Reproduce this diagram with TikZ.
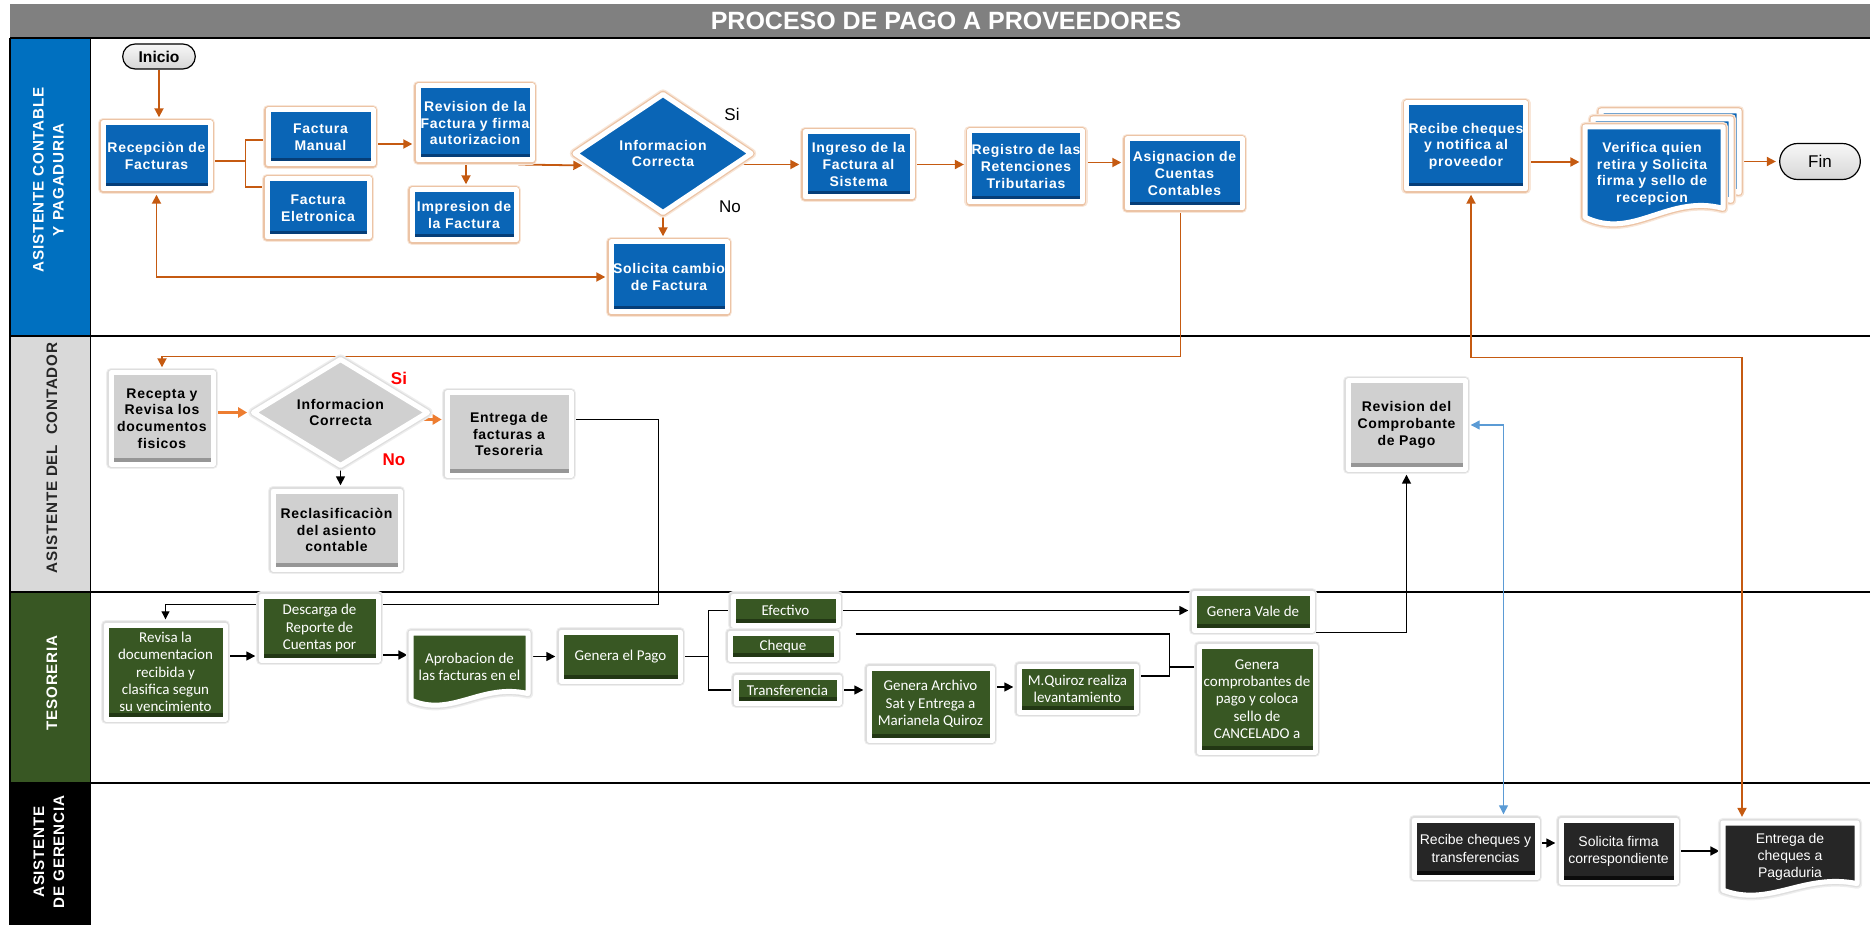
\documentclass[tikz,border=0pt]{standalone}
\usepackage{fontspec}
\setmainfont{Liberation Sans}
\newfontfamily\calfont{Carlito}
\newfontfamily\spfont[LetterSpace=5]{Liberation Sans}
\usetikzlibrary{shapes.geometric,shapes.misc,arrows.meta,calc,shadows}

\definecolor{pblue}{RGB}{10,101,182}
\definecolor{pblueD}{RGB}{6,62,120}
\definecolor{pgray}{RGB}{208,208,208}
\definecolor{pgrayD}{RGB}{150,150,150}
\definecolor{pgreen}{RGB}{56,87,35}
\definecolor{pgreenD}{RGB}{34,55,20}
\definecolor{pblack}{RGB}{38,38,38}
\definecolor{pblackD}{RGB}{12,12,12}
\definecolor{haloO}{RGB}{236,196,166}
\definecolor{haloOL}{RGB}{248,230,216}
\definecolor{haloG}{RGB}{222,222,222}
\definecolor{haloGL}{RGB}{238,238,238}
\definecolor{hblue}{RGB}{0,112,192}
\definecolor{hgray}{RGB}{217,217,217}
\definecolor{hgreen}{RGB}{56,87,35}
\definecolor{tgray}{RGB}{128,128,128}
\definecolor{lorange}{RGB}{197,90,17}
\definecolor{lorange2}{RGB}{237,125,49}
\definecolor{lblue}{RGB}{91,155,213}

\newcommand\bxfont{\spfont\fontsize{7}{8.3}\selectfont\bfseries}
\newcommand\grfont{\calfont\fontsize{7.5}{8.7}\selectfont}
\newcommand\bkfont{\fontsize{7}{8.6}\selectfont}
\newcommand\hdfont{\spfont\fontsize{7.6}{10}\selectfont\bfseries}

% document shape: style, x1, y1 (top), x2, y2 (bottom of the wave)
\newcommand{\docshape}[5]{%
  \path[#1] (#2,#3) -- (#4,#3) -- (#4,{#5-0.17*(#5-#3)})
    .. controls ({#2+0.6*(#4-#2)},{#5-0.32*(#5-#3)}) and ({#2+0.35*(#4-#2)},{#5+0.16*(#5-#3)})
    .. (#2,{#5-0.08*(#5-#3)}) -- cycle;}

\pgfdeclarelayer{lanes}
\pgfdeclarelayer{links}
\pgfsetlayers{lanes,links,main}

\tikzset{
  sz/.style 2 args={minimum width={(#1-6)*0.5pt}, minimum height={(#2-6)*0.5pt}},
  dsz/.style 2 args={minimum width={#1*0.5pt}, minimum height={#2*0.5pt}},
  frame/.style={draw=white, line width=2.5pt, line join=round, align=center, inner sep=1pt},
  shd/.style={drop shadow={shadow xshift=0.7pt, shadow yshift=-1.3pt, opacity=0.35, fill=black!70}},
  halo/.style 2 args={preaction={draw=#2, line width=5.2pt, line join=round},
                      preaction={draw=#1, line width=3.8pt, line join=round}},
  bev/.style={path picture={\fill[#1] ([yshift=3.2pt]path picture bounding box.south west) rectangle (path picture bounding box.south east);}},
  bluebox/.style={frame, shd, halo={haloO}{haloOL}, fill=pblue, bev=pblueD, text=white, font=\bxfont},
  bluediam/.style={frame, shd, halo={haloO}{haloOL}, fill=pblue, diamond, aspect=1.5, inner sep=0pt, text=white, font=\bxfont},
  graybox/.style={frame, shd, halo={haloG}{haloGL}, fill=pgray, bev=pgrayD, text=black, font=\bxfont},
  graydiam/.style={frame, shd, halo={haloG}{haloGL}, fill=pgray, diamond, aspect=1.5, inner sep=0pt, text=black, font=\bxfont},
  greenbox/.style={frame, shd, halo={haloG}{haloGL}, fill=pgreen, bev=pgreenD, text=white, font=\grfont},
  blackbox/.style={frame, shd, halo={haloG}{haloGL}, fill=pblack, bev=pblackD, text=white, font=\bkfont},
  bluedoc/.style={draw=white, line width=2.5pt, line join=round, shd, halo={haloO}{haloOL}, fill=pblue},
  greendoc/.style={draw=white, line width=2.5pt, line join=round, shd, halo={haloG}{haloGL}, fill=pgreen},
  blackdoc/.style={draw=white, line width=2.5pt, line join=round, shd, halo={haloG}{haloGL}, fill=pblack},
  doctext/.style={align=center, inner sep=0pt},
  pill/.style={rounded rectangle, draw=black, line width=0.6pt, top color=gray!6, bottom color=gray!32},
  hdr/.style={rotate=90, align=center, font=\hdfont},
  olin/.style={draw=lorange, line width=0.9pt},
  oarr/.style={olin, -{Triangle[length=4.5pt,width=4.5pt]}, shorten >=1.6pt},
  obth/.style={olin, {Triangle[length=4.5pt,width=4.5pt]}-{Triangle[length=4.5pt,width=4.5pt]}, shorten >=1.6pt, shorten <=1.6pt},
  o2arr/.style={draw=lorange2, line width=1.6pt, -{Triangle[length=4.5pt,width=5pt]}, shorten >=1.4pt},
  klin/.style={draw=black, line width=0.8pt},
  karr/.style={klin, -{Triangle[length=4.5pt,width=4.5pt]}, shorten >=1.6pt},
  tarr/.style={draw=black, line width=0.5pt, -{Triangle[length=4pt,width=4pt]}, shorten >=1.6pt},
  lbth/.style={draw=lblue, line width=0.6pt, {Triangle[length=4.5pt,width=4.5pt]}-{Triangle[length=4.5pt,width=4.5pt]}, shorten >=1.6pt, shorten <=1.6pt},
}

\begin{document}
\begin{tikzpicture}[x=0.5pt,y=-0.5pt]
\useasboundingbox (0,0) rectangle (1870,925);

% ---------- swimlanes ----------
\begin{pgfonlayer}{lanes}
  \fill[tgray] (10,4) rectangle (1870,38);
  \fill[hblue] (10,38) rectangle (90,336);
  \fill[hgray] (10,336) rectangle (90,592);
  \fill[hgreen] (10,592) rectangle (90,783);
  \fill[black] (10,783) rectangle (90,925);
  \draw[line width=1.2pt] (10,38) -- (1870,38);
  \foreach \yy in {336,592,783} \draw[line width=1.2pt] (10,\yy) -- (1870,\yy);
  \draw[line width=0.8pt] (10,38) -- (10,925);
  \draw[line width=0.5pt] (90,38) -- (90,925);
\end{pgfonlayer}

\node[text=white, font=\bfseries\fontsize{12.5}{14}\selectfont] (title) at (946,21) {PROCESO DE PAGO A PROVEEDORES};
\node[hdr, text=white] (h1) at (48.5,180) {ASISTENTE CONTABLE\\Y PAGADURIA};
\node[hdr, text=black!85] (h2) at (52,458) {ASISTENTE DEL\ \ CONTADOR};
\node[hdr, text=white] (h3) at (52,683) {TESORERIA};
\node[hdr, text=white] (h4) at (49,852) {ASISTENTE\\DE GERENCIA};

% ---------- lane 1: asistente contable y pagaduria ----------
\node[pill, minimum width=43pt, minimum height=12.5pt, font=\bfseries\fontsize{7.8}{9}\selectfont] (inicio) at (159,56.5) {Inicio};
\node[bluebox, sz={113}{72}] (rec) at (156.5,156) {Recepciòn de\\Facturas};
\node[bluebox, sz={111}{60}] (fm) at (320.5,137) {Factura\\Manual};
\node[bluebox, sz={108}{64}] (fe) at (318,208) {Factura\\Eletronica};
\node[bluebox, sz={120}{80}] (rev) at (475,123) {Revision de la\\Factura y firma\\autorizacion};
\node[bluebox, sz={110}{56}] (imp) at (464,215) {Impresion de\\la Factura};
\node[bluediam, minimum width=89pt, minimum height=60pt] (dia) at (663,153.5) {Informacion\\Correcta};
\node[font=\fontsize{8.5}{10}\selectfont] (si1) at (732,114) {Si};
\node[font=\fontsize{8.5}{10}\selectfont] (no1) at (730,207) {No};
\node[bluebox, sz={113}{71}] (ing) at (858.5,164.5) {Ingreso de la\\Factura al\\Sistema};
\node[bluebox, sz={122}{76}] (sol) at (669,277) {Solicita cambio\\de Factura};
\node[bluebox, sz={118}{77}] (reg) at (1026,166.5) {Registro de las\\Retenciones\\Tributarias};
\node[bluebox, sz={121}{75}] (asig) at (1184.5,173.5) {Asignacion de\\Cuentas\\Contables};
\node[bluebox, sz={122}{92}] (recib) at (1466,146) {Recibe cheques\\y notifica al\\proveedor};
\docshape{bluedoc}{1601}{111}{1739}{209}
\docshape{bluedoc}{1593}{119}{1731}{217}
\docshape{bluedoc}{1585}{127}{1723}{225}
\node[doctext, dsz={138}{98}, text=white, font=\bxfont] (ver) at (1652,174) {Verifica quien\\retira y Solicita\\firma y sello de\\recepcion};
\node[pill, minimum width=47pt, minimum height=18pt, font=\fontsize{8.5}{10}\selectfont] (fin) at (1820,161.5) {Fin};

% ---------- lane 2: asistente del contador ----------
\node[graybox, sz={108}{97}] (rcpt) at (162,418.5) {Recepta y\\Revisa los\\documentos\\fisicos};
\node[graydiam, minimum width=88pt, minimum height=54pt] (dia2) at (340.5,412.5) {Informacion\\Correcta};
\node[text=red, font=\bfseries\fontsize{8.5}{10}\selectfont] (si2) at (399,378) {Si};
\node[text=red, font=\bfseries\fontsize{8.5}{10}\selectfont] (no2) at (394,460) {No};
\node[graybox, sz={130}{88}] (entf) at (509,434) {Entrega de\\facturas a\\Tesoreria};
\node[graybox, sz={133}{84}] (recl) at (336.5,530) {Reclasificaciòn\\del asiento\\contable};
\node[graybox, sz={123}{94}] (revc) at (1406.5,425) {Revision del\\Comprobante\\de Pago};

% ---------- lane 3: tesoreria ----------
\node[greenbox, sz={125}{100}] (revisa) at (165.5,672) {Revisa la\\documentacion\\recibida y\\clasifica segun\\su vencimiento};
\node[greenbox, sz={123}{70}] (desc) at (319.5,628) {Descarga de\\Reporte de\\Cuentas por};
\docshape{greendoc}{411}{633}{528}{706}
\node[doctext, dsz={117}{73}, text=white, font=\grfont] (aprob) at (469.5,667) {Aprobacion de\\las facturas en el};
\node[greenbox, sz={125}{55}] (pago) at (620.5,656.5) {Genera el Pago};
\node[greenbox, sz={111}{35}] (efe) at (785.5,610.5) {Efectivo};
\node[greenbox, sz={112}{32}] (che) at (783,646) {Cheque};
\node[greenbox, sz={109}{32}] (tra) at (787.5,690) {Transferencia};
\node[greenbox, sz={129}{78}] (garch) at (930.5,704) {Genera Archivo\\Sat y Entrega a\\Marianela Quiroz};
\node[greenbox, sz={123}{52}] (mq) at (1077.5,689) {M.Quiroz realiza\\levantamiento};
\node[greenbox, sz={124}{43}] (vale) at (1253,611.5) {Genera Vale de};
\node[greenbox, sz={122}{112}] (gcomp) at (1257,699) {Genera\\comprobantes de\\pago y coloca\\sello de\\CANCELADO a};

% ---------- lane 4: asistente de gerencia ----------
\node[blackbox, sz={129}{63}] (rct) at (1475.5,848.5) {Recibe cheques y\\transferencias};
\node[blackbox, sz={121}{68}] (sol2) at (1618.5,851) {Solicita firma\\correspondiente};
\docshape{blackdoc}{1723}{823}{1857}{896}
\node[doctext, dsz={134}{73}, text=white, font=\bkfont] (entr) at (1790,857) {Entrega de\\cheques a\\Pagaduria};

% ---------- connectors ----------
\begin{pgfonlayer}{links}
  % lane 1
  \draw[oarr] (inicio.south) -- (inicio.south |- rec.north);
  \draw[olin] ([yshift=-2.5pt]rec.east) -- ++(33,0) coordinate (j1);
  \draw[olin] ([yshift=-1.5pt]fm.west) -| (j1) |- ([yshift=10.5pt]fe.west);
  \draw[oarr] ([yshift=-3.5pt]fm.east) coordinate (t) -- (t -| rev.west);
  \draw[oarr] ([xshift=-4.5pt]rev.south) coordinate (t) -- (t |- imp.north);
  \draw[oarr] ($(rev.south east)+(-16,2)$) -- ($(dia.west)+(14,12)$);
  \draw[oarr] ($(dia.east)+(-14,11)$) coordinate (t) -- (t -| ing.west);
  \draw[oarr] (ing.east) coordinate (t) -- (t -| reg.west);
  \draw[oarr] ([yshift=2pt]reg.east) coordinate (t) -- (t -| asig.west);
  \draw[oarr] (dia.south) coordinate (t) -- (t |- sol.north);
  \draw[obth] (rec.south) |- (sol.west);
  \draw[oarr] ([yshift=-8pt]recib.east) coordinate (t) -- (t -| ver.west);
  \coordinate (verR) at ([xshift=9pt]ver.east);
  \draw[oarr] (verR |- fin.west) -- (fin.west);
  % between lanes
  \draw[oarr] ([xshift=-2pt]asig.south) -- ++(0,146) -| (rcpt.north);
  \draw[obth] ([xshift=2.5pt]recib.south) -- ++(0,166) -| ([xshift=-24pt]entr.north);
  \draw[tarr] ([yshift=7pt]entf.east) -- ++(85,0) -- ++(0,184) -| (revisa.north);
  \draw[karr] (vale.south east) -| (revc.south);
  \draw[lbth] (revc.east) -| ([xshift=14pt]rct.north);
  % lane 2
  \draw[o2arr] (rcpt.east |- dia2.west) -- (dia2.west);
  \draw[o2arr] ($(dia2.east)+(-16,7)$) coordinate (t) -- (t -| entf.west);
  \draw[karr] (dia2.south) coordinate (t) -- (t |- recl.north);
  % lane 3
  \draw[karr] ([yshift=8pt]revisa.east) coordinate (t) -- (t -| desc.west);
  \draw[karr] ([yshift=-13.5pt]desc.east) coordinate (t) -- (t -| aprob.west);
  \draw[karr] (aprob.east |- pago.west) -- (pago.west);
  \draw[klin] (pago.east) -- ++(26,0) coordinate (j3);
  \draw[klin] (efe.west) -| (j3) |- (tra.west);
  \draw[karr] (efe.east) coordinate (t) -- (t -| vale.west);
  \coordinate (cq) at ($(che.east)+(17,-12)$);
  \draw[klin] (cq) -- ++(314,0) coordinate (k) |- ([yshift=6.5pt]mq.east);
  \draw[klin] ([yshift=16pt]gcomp.west) -| (k);
  \draw[karr] (tra.east) coordinate (t) -- (t -| garch.west);
  \draw[karr] ([yshift=8.5pt]garch.east) coordinate (t) -- (t -| mq.west);
  % lane 4
  \draw[karr] ([yshift=2.75pt]rct.east) coordinate (t) -- (t -| sol2.west);
  \draw[karr] (sol2.east) coordinate (t) -- (t -| entr.west);
\end{pgfonlayer}
\end{tikzpicture}
\end{document}
